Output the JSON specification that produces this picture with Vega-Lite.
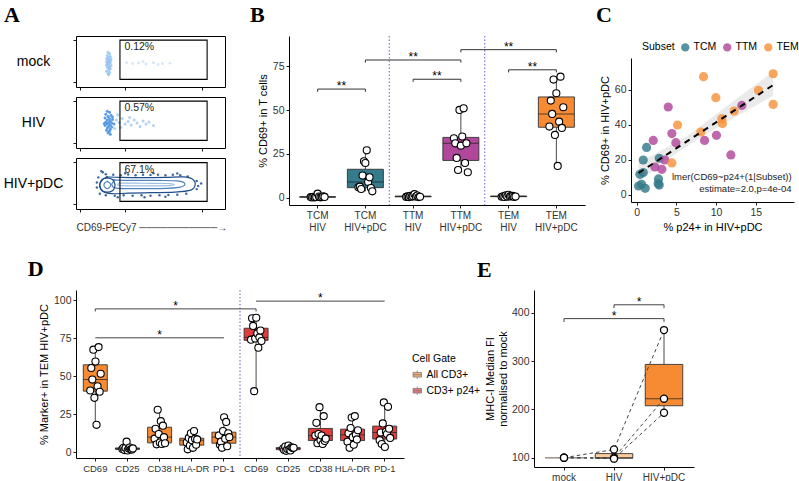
{
"$schema": "https://vega.github.io/schema/vega-lite/v6.json",
"padding": {"left": 2, "top": 3, "right": 0, "bottom": 0},
"background": "white",
"config": {
 "font": "Liberation Sans",
 "view": {"stroke": null},
 "axis": {"domainColor": "#000", "domainWidth": 1, "tickColor": "#000", "tickSize": 3, "tickWidth": 0.9, "labelColor": "#333", "labelFontSize": 10.5, "titleFontSize": 11, "titleFontWeight": "normal", "titleColor": "#000", "grid": false, "labelPadding": 2, "titlePadding": 4, "labelOverlap": false},
 "axisX": {"labelAngle": 0},
 "title": {"font": "Liberation Serif", "fontSize": 22, "fontWeight": "bold", "anchor": "start", "frame": "group", "color": "#000"},
 "legend": {"labelFontSize": 10.5, "titleFontSize": 10.5, "titleFontWeight": "normal", "labelColor": "#000", "titleColor": "#000"}
},
"datasets": {
 "amock": [
  {"k":"mc","x":21.5,"y":68},{"k":"mc","x":22.5,"y":65},{"k":"mc","x":21,"y":62},{"k":"mc","x":23,"y":60},{"k":"mc","x":22,"y":58},{"k":"mc","x":20.5,"y":56},{"k":"mc","x":23.5,"y":55},{"k":"mc","x":21.5,"y":53},{"k":"mc","x":22.5,"y":51},{"k":"mc","x":20.5,"y":50},{"k":"mc","x":23,"y":48},{"k":"mc","x":21.5,"y":47},{"k":"mc","x":22,"y":45},{"k":"mc","x":20.5,"y":43},{"k":"mc","x":23.5,"y":42},{"k":"mc","x":22,"y":40},{"k":"mc","x":21,"y":38},{"k":"mc","x":23,"y":36},{"k":"mc","x":22,"y":34},{"k":"mc","x":20.5,"y":31},{"k":"mc","x":22.5,"y":29},{"k":"mc","x":21.5,"y":26},{"k":"mc","x":22,"y":24},{"k":"mc","x":23,"y":52},{"k":"mc","x":21,"y":45},{"k":"mc","x":22.5,"y":38},
  {"k":"mf","x":34,"y":48},{"k":"mf","x":38,"y":46},{"k":"mf","x":42,"y":47},{"k":"mf","x":47,"y":45},{"k":"mf","x":52,"y":48},{"k":"mf","x":58,"y":46},{"k":"mf","x":63,"y":47},{"k":"mf","x":45,"y":50},{"k":"mf","x":55,"y":44}
 ],
 "ahiv": [
  {"k":"hc","x":21,"y":72},{"k":"hc","x":22.5,"y":70},{"k":"hc","x":20,"y":66},{"k":"hc","x":23.5,"y":64},{"k":"hc","x":21.5,"y":62},{"k":"hc","x":19.5,"y":59},{"k":"hc","x":22.5,"y":58},{"k":"hc","x":24.5,"y":56},{"k":"hc","x":21,"y":55},{"k":"hc","x":23,"y":53},{"k":"hc","x":20,"y":51},{"k":"hc","x":22,"y":50},{"k":"hc","x":24,"y":49},{"k":"hc","x":21,"y":47},{"k":"hc","x":23,"y":45},{"k":"hc","x":19.5,"y":44},{"k":"hc","x":22,"y":42},{"k":"hc","x":24,"y":41},{"k":"hc","x":21,"y":39},{"k":"hc","x":23,"y":37},{"k":"hc","x":20.5,"y":35},{"k":"hc","x":22.5,"y":33},{"k":"hc","x":21.5,"y":30},{"k":"hc","x":23,"y":27},{"k":"hc","x":24.5,"y":61},{"k":"hc","x":25.5,"y":47},{"k":"hc","x":19,"y":48},
  {"k":"hf","x":27,"y":55},{"k":"hf","x":29,"y":50},{"k":"hf","x":31,"y":58},{"k":"hf","x":33,"y":47},{"k":"hf","x":35,"y":52},{"k":"hf","x":37,"y":45},{"k":"hf","x":39,"y":55},{"k":"hf","x":41,"y":49},{"k":"hf","x":43,"y":42},{"k":"hf","x":45,"y":53},{"k":"hf","x":47,"y":47},{"k":"hf","x":49,"y":51},{"k":"hf","x":52,"y":44},{"k":"hf","x":30,"y":40},{"k":"hf","x":36,"y":60},{"k":"hf","x":26,"y":38},{"k":"hf","x":28,"y":65}
 ],
 "apdc": [
  {"k":"pd","x":20,"y":68},{"k":"pd","x":25,"y":67},{"k":"pd","x":30,"y":66},{"k":"pd","x":35,"y":67.5},{"k":"pd","x":40,"y":66},{"k":"pd","x":45,"y":67},{"k":"pd","x":50,"y":66.5},{"k":"pd","x":55,"y":67},{"k":"pd","x":60,"y":66},{"k":"pd","x":65,"y":67},{"k":"pd","x":70,"y":66},{"k":"pd","x":75,"y":64},{"k":"pd","x":18,"y":72},{"k":"pd","x":33,"y":70},{"k":"pd","x":52,"y":70},{"k":"pd","x":68,"y":69.5},
  {"k":"pd","x":20,"y":27},{"k":"pd","x":26,"y":26},{"k":"pd","x":32,"y":27},{"k":"pd","x":38,"y":26},{"k":"pd","x":44,"y":27},{"k":"pd","x":50,"y":26},{"k":"pd","x":56,"y":27},{"k":"pd","x":62,"y":27.5},{"k":"pd","x":68,"y":28},{"k":"pd","x":74,"y":30},{"k":"pd","x":28,"y":23},{"k":"pd","x":46,"y":23},{"k":"pd","x":60,"y":24},
  {"k":"pd","x":81,"y":55},{"k":"pd","x":82,"y":45},{"k":"pd","x":81,"y":39},{"k":"pd","x":84,"y":50},{"k":"pd","x":14,"y":52},{"k":"pd","x":14,"y":42},{"k":"pd","x":15,"y":62},{"k":"pd","x":16,"y":30},{"k":"pd","x":17,"y":74}
 ],
 "acont": [
  {"c":"outer","i":1,"x":21,"y":63},{"c":"outer","i":2,"x":30,"y":62},{"c":"outer","i":3,"x":45,"y":61.5},{"c":"outer","i":4,"x":60,"y":62},{"c":"outer","i":5,"x":72,"y":63},{"c":"outer","i":6,"x":78,"y":59},{"c":"outer","i":7,"x":80,"y":48},{"c":"outer","i":8,"x":77,"y":37},{"c":"outer","i":9,"x":66,"y":33},{"c":"outer","i":10,"x":50,"y":32},{"c":"outer","i":11,"x":35,"y":31},{"c":"outer","i":12,"x":24,"y":30},{"c":"outer","i":13,"x":18,"y":35},{"c":"outer","i":14,"x":16,"y":47},{"c":"outer","i":15,"x":18,"y":58},{"c":"outer","i":16,"x":21,"y":63},
  {"c":"mid","i":1,"x":26,"y":57},{"c":"mid","i":2,"x":40,"y":56},{"c":"mid","i":3,"x":55,"y":56},{"c":"mid","i":4,"x":68,"y":55},{"c":"mid","i":5,"x":73,"y":50},{"c":"mid","i":6,"x":70,"y":43},{"c":"mid","i":7,"x":56,"y":40},{"c":"mid","i":8,"x":40,"y":40},{"c":"mid","i":9,"x":27,"y":41},{"c":"mid","i":10,"x":24,"y":48},{"c":"mid","i":11,"x":26,"y":57},
  {"c":"inner","i":1,"x":30,"y":51},{"c":"inner","i":2,"x":45,"y":50.5},{"c":"inner","i":3,"x":62,"y":50},{"c":"inner","i":4,"x":66,"y":48},{"c":"inner","i":5,"x":62,"y":46},{"c":"inner","i":6,"x":45,"y":45.5},{"c":"inner","i":7,"x":30,"y":46},{"c":"inner","i":8,"x":28,"y":48.5},{"c":"inner","i":9,"x":30,"y":51},
  {"c":"ring","i":1,"x":21,"y":61},{"c":"ring","i":2,"x":24.5,"y":58},{"c":"ring","i":3,"x":26,"y":50},{"c":"ring","i":4,"x":26,"y":43},{"c":"ring","i":5,"x":24.5,"y":36},{"c":"ring","i":6,"x":21,"y":33},{"c":"ring","i":7,"x":17.5,"y":36},{"c":"ring","i":8,"x":16,"y":43},{"c":"ring","i":9,"x":16,"y":50},{"c":"ring","i":10,"x":17.5,"y":58},{"c":"ring","i":11,"x":21,"y":61},
  {"c":"ring2","i":1,"x":21,"y":54},{"c":"ring2","i":2,"x":23,"y":50},{"c":"ring2","i":3,"x":23,"y":44},{"c":"ring2","i":4,"x":21,"y":40},{"c":"ring2","i":5,"x":19,"y":44},{"c":"ring2","i":6,"x":19,"y":50},{"c":"ring2","i":7,"x":21,"y":54}
 ],
 "agate": [
  {"s":"mock","x":29.5,"x2":88,"y":15,"y2":92},
  {"s":"HIV","x":29.5,"x2":88,"y":15,"y2":92},
  {"s":"HIV+pDC","x":29.5,"x2":88,"y":15,"y2":91}
 ],
 "alab": [
  {"s":"mock","x":32.5,"y":78,"t":"0.12%"},
  {"s":"HIV","x":32.5,"y":78,"t":"0.57%"},
  {"s":"HIV+pDC","x":32.5,"y":77,"t":"67.1%"}
 ],
 "b": [
  {"cat":"TCM HIV","g":"HIV","d":"d01","v":0.3},{"cat":"TCM HIV","g":"HIV","d":"d02","v":0.1},{"cat":"TCM HIV","g":"HIV","d":"d03","v":0.5},{"cat":"TCM HIV","g":"HIV","d":"d04","v":0.2},{"cat":"TCM HIV","g":"HIV","d":"d05","v":0.4},{"cat":"TCM HIV","g":"HIV","d":"d06","v":2.3},{"cat":"TCM HIV","g":"HIV","d":"d07","v":0.6},{"cat":"TCM HIV","g":"HIV","d":"d08","v":0.2},{"cat":"TCM HIV","g":"HIV","d":"d09","v":0.3},{"cat":"TCM HIV","g":"HIV","d":"d10","v":0.8},{"cat":"TCM HIV","g":"HIV","d":"d11","v":0.4},
  {"cat":"TCM HIV+pDC","g":"TCM","d":"d01","v":5.9},{"cat":"TCM HIV+pDC","g":"TCM","d":"d02","v":6.3},{"cat":"TCM HIV+pDC","g":"TCM","d":"d03","v":4.95},{"cat":"TCM HIV+pDC","g":"TCM","d":"d04","v":12.6},{"cat":"TCM HIV+pDC","g":"TCM","d":"d05","v":20.8},{"cat":"TCM HIV+pDC","g":"TCM","d":"d06","v":19.8},{"cat":"TCM HIV+pDC","g":"TCM","d":"d07","v":27},{"cat":"TCM HIV+pDC","g":"TCM","d":"d08","v":9},{"cat":"TCM HIV+pDC","g":"TCM","d":"d09","v":11.6},{"cat":"TCM HIV+pDC","g":"TCM","d":"d10","v":5.5},{"cat":"TCM HIV+pDC","g":"TCM","d":"d11","v":3.6},
  {"cat":"TTM HIV","g":"HIV","d":"d01","v":0.4},{"cat":"TTM HIV","g":"HIV","d":"d02","v":0.7},{"cat":"TTM HIV","g":"HIV","d":"d03","v":0.3},{"cat":"TTM HIV","g":"HIV","d":"d04","v":1.0},{"cat":"TTM HIV","g":"HIV","d":"d05","v":0.5},{"cat":"TTM HIV","g":"HIV","d":"d06","v":0.8},{"cat":"TTM HIV","g":"HIV","d":"d07","v":2.0},{"cat":"TTM HIV","g":"HIV","d":"d08","v":0.6},{"cat":"TTM HIV","g":"HIV","d":"d09","v":1.2},{"cat":"TTM HIV","g":"HIV","d":"d10","v":0.3},{"cat":"TTM HIV","g":"HIV","d":"d11","v":0.5},
  {"cat":"TTM HIV+pDC","g":"TTM","d":"d01","v":33.9},{"cat":"TTM HIV+pDC","g":"TTM","d":"d02","v":31},{"cat":"TTM HIV+pDC","g":"TTM","d":"d03","v":22.7},{"cat":"TTM HIV+pDC","g":"TTM","d":"d04","v":15.8},{"cat":"TTM HIV+pDC","g":"TTM","d":"d05","v":50.1},{"cat":"TTM HIV+pDC","g":"TTM","d":"d06","v":29.7},{"cat":"TTM HIV+pDC","g":"TTM","d":"d07","v":34.9},{"cat":"TTM HIV+pDC","g":"TTM","d":"d08","v":51},{"cat":"TTM HIV+pDC","g":"TTM","d":"d09","v":19.8},{"cat":"TTM HIV+pDC","g":"TTM","d":"d10","v":31},{"cat":"TTM HIV+pDC","g":"TTM","d":"d11","v":14.5},
  {"cat":"TEM HIV","g":"HIV","d":"d01","v":0.5},{"cat":"TEM HIV","g":"HIV","d":"d02","v":0.8},{"cat":"TEM HIV","g":"HIV","d":"d03","v":0.4},{"cat":"TEM HIV","g":"HIV","d":"d04","v":1.3},{"cat":"TEM HIV","g":"HIV","d":"d05","v":0.6},{"cat":"TEM HIV","g":"HIV","d":"d06","v":1.6},{"cat":"TEM HIV","g":"HIV","d":"d07","v":0.7},{"cat":"TEM HIV","g":"HIV","d":"d08","v":0.9},{"cat":"TEM HIV","g":"HIV","d":"d09","v":1.0},{"cat":"TEM HIV","g":"HIV","d":"d10","v":0.4},{"cat":"TEM HIV","g":"HIV","d":"d11","v":0.6},
  {"cat":"TEM HIV+pDC","g":"TEM","d":"d01","v":40.6},{"cat":"TEM HIV+pDC","g":"TEM","d":"d02","v":55.4},{"cat":"TEM HIV+pDC","g":"TEM","d":"d03","v":47.8},{"cat":"TEM HIV+pDC","g":"TEM","d":"d04","v":67.4},{"cat":"TEM HIV+pDC","g":"TEM","d":"d05","v":35.8},{"cat":"TEM HIV+pDC","g":"TEM","d":"d06","v":59.6},{"cat":"TEM HIV+pDC","g":"TEM","d":"d07","v":18.1},{"cat":"TEM HIV+pDC","g":"TEM","d":"d08","v":43.4},{"cat":"TEM HIV+pDC","g":"TEM","d":"d09","v":69.1},{"cat":"TEM HIV+pDC","g":"TEM","d":"d10","v":39.8},{"cat":"TEM HIV+pDC","g":"TEM","d":"d11","v":51.6}
 ],
 "bbr": [
  {"id":1,"o":1,"cat":"TCM HIV","v":60.4},{"id":1,"o":2,"cat":"TCM HIV","v":62},{"id":1,"o":3,"cat":"TCM HIV+pDC","v":62},{"id":1,"o":4,"cat":"TCM HIV+pDC","v":60.4},
  {"id":2,"o":1,"cat":"TCM HIV+pDC","v":77.1},{"id":2,"o":2,"cat":"TCM HIV+pDC","v":78.6},{"id":2,"o":3,"cat":"TTM HIV+pDC","v":78.6},{"id":2,"o":4,"cat":"TTM HIV+pDC","v":77.1},
  {"id":3,"o":1,"cat":"TTM HIV","v":66.1},{"id":3,"o":2,"cat":"TTM HIV","v":67.6},{"id":3,"o":3,"cat":"TTM HIV+pDC","v":67.6},{"id":3,"o":4,"cat":"TTM HIV+pDC","v":66.1},
  {"id":4,"o":1,"cat":"TTM HIV+pDC","v":83},{"id":4,"o":2,"cat":"TTM HIV+pDC","v":84.5},{"id":4,"o":3,"cat":"TEM HIV+pDC","v":84.5},{"id":4,"o":4,"cat":"TEM HIV+pDC","v":83},
  {"id":5,"o":1,"cat":"TEM HIV","v":71.5},{"id":5,"o":2,"cat":"TEM HIV","v":73},{"id":5,"o":3,"cat":"TEM HIV+pDC","v":73},{"id":5,"o":4,"cat":"TEM HIV+pDC","v":71.5}
 ],
 "bst": [
  {"cat":"TCM HIV+pDC","p":"e","v":62,"s":"**"},
  {"cat":"TTM HIV","p":"c","v":78.6,"s":"**"},
  {"cat":"TTM HIV+pDC","p":"e","v":67.6,"s":"**"},
  {"cat":"TEM HIV","p":"c","v":84.5,"s":"**"},
  {"cat":"TEM HIV+pDC","p":"e","v":73,"s":"**"}
 ],
 "c": [
  {"s":"TCM","x":1.26,"y":27},{"s":"TCM","x":2.85,"y":20.8},{"s":"TCM","x":0.84,"y":19.8},{"s":"TCM","x":0.84,"y":12.6},{"s":"TCM","x":0.42,"y":11.6},{"s":"TCM","x":2.76,"y":9},{"s":"TCM","x":2.72,"y":6.3},{"s":"TCM","x":0.63,"y":5.9},{"s":"TCM","x":2.85,"y":5.5},{"s":"TCM","x":0.25,"y":4.95},{"s":"TCM","x":1.09,"y":3.6},
  {"s":"TTM","x":13.24,"y":51},{"s":"TTM","x":3.98,"y":50.1},{"s":"TTM","x":2.1,"y":31},{"s":"TTM","x":8.55,"y":31},{"s":"TTM","x":4.44,"y":34.9},{"s":"TTM","x":4.94,"y":29.7},{"s":"TTM","x":10.05,"y":33.9},{"s":"TTM","x":11.86,"y":22.7},{"s":"TTM","x":3.56,"y":19.8},{"s":"TTM","x":2.3,"y":15.8},{"s":"TTM","x":3.18,"y":14.5},
  {"s":"TEM","x":8.42,"y":67.4},{"s":"TEM","x":17.18,"y":69.1},{"s":"TEM","x":15.33,"y":59.6},{"s":"TEM","x":9.97,"y":55.4},{"s":"TEM","x":17.18,"y":51.6},{"s":"TEM","x":12.27,"y":47.8},{"s":"TEM","x":10.72,"y":43.4},{"s":"TEM","x":10.8,"y":40.6},{"s":"TEM","x":5.15,"y":39.8},{"s":"TEM","x":8.08,"y":35.8},{"s":"TEM","x":4.44,"y":18.1}
 ],
 "cband": [
  {"x":0.25,"y":7,"y2":18.5},{"x":2,"y":13.5,"y2":22.5},{"x":4,"y":20.5,"y2":27.5},{"x":6.19,"y":27.2,"y2":33},{"x":8,"y":32.5,"y2":39},{"x":10,"y":38,"y2":46},{"x":12.5,"y":44.5,"y2":54.5},{"x":15,"y":51,"y2":63},{"x":17.18,"y":56.5,"y2":70}
 ],
 "ctxt": [
  {"x":19.5,"y":10.3,"t":"lmer(CD69~p24+(1|Subset))"},
  {"x":19.5,"y":3.1,"t":"estimate=2.0,p=4e-04"}
 ],
 "d": [
  {"k":"A|CD69","g":"All CD3+","d":"d01","v":40.6},{"k":"A|CD69","g":"All CD3+","d":"d02","v":55.4},{"k":"A|CD69","g":"All CD3+","d":"d03","v":47.8},{"k":"A|CD69","g":"All CD3+","d":"d04","v":67.4},{"k":"A|CD69","g":"All CD3+","d":"d05","v":35.8},{"k":"A|CD69","g":"All CD3+","d":"d06","v":59.6},{"k":"A|CD69","g":"All CD3+","d":"d07","v":18.1},{"k":"A|CD69","g":"All CD3+","d":"d08","v":43.4},{"k":"A|CD69","g":"All CD3+","d":"d09","v":69.1},{"k":"A|CD69","g":"All CD3+","d":"d10","v":39.8},{"k":"A|CD69","g":"All CD3+","d":"d11","v":51.6},
  {"k":"A|CD25","g":"All CD3+","d":"d01","v":2.2},{"k":"A|CD25","g":"All CD3+","d":"d02","v":3},{"k":"A|CD25","g":"All CD3+","d":"d03","v":1.5},{"k":"A|CD25","g":"All CD3+","d":"d04","v":2.8},{"k":"A|CD25","g":"All CD3+","d":"d05","v":7},{"k":"A|CD25","g":"All CD3+","d":"d06","v":1.2},{"k":"A|CD25","g":"All CD3+","d":"d07","v":2.5},{"k":"A|CD25","g":"All CD3+","d":"d08","v":3.2},{"k":"A|CD25","g":"All CD3+","d":"d09","v":2},{"k":"A|CD25","g":"All CD3+","d":"d10","v":1.8},{"k":"A|CD25","g":"All CD3+","d":"d11","v":2.6},
  {"k":"A|CD38","g":"All CD3+","d":"d01","v":9},{"k":"A|CD38","g":"All CD3+","d":"d02","v":15.5},{"k":"A|CD38","g":"All CD3+","d":"d03","v":5.3},{"k":"A|CD38","g":"All CD3+","d":"d04","v":28},{"k":"A|CD38","g":"All CD3+","d":"d05","v":12},{"k":"A|CD38","g":"All CD3+","d":"d06","v":6.5},{"k":"A|CD38","g":"All CD3+","d":"d07","v":20.5},{"k":"A|CD38","g":"All CD3+","d":"d08","v":5.5},{"k":"A|CD38","g":"All CD3+","d":"d09","v":17.5},{"k":"A|CD38","g":"All CD3+","d":"d10","v":10},{"k":"A|CD38","g":"All CD3+","d":"d11","v":6},
  {"k":"A|HLA-DR","g":"All CD3+","d":"d01","v":6.5},{"k":"A|HLA-DR","g":"All CD3+","d":"d02","v":2},{"k":"A|HLA-DR","g":"All CD3+","d":"d03","v":9.5},{"k":"A|HLA-DR","g":"All CD3+","d":"d04","v":4.5},{"k":"A|HLA-DR","g":"All CD3+","d":"d05","v":12.5},{"k":"A|HLA-DR","g":"All CD3+","d":"d06","v":8},{"k":"A|HLA-DR","g":"All CD3+","d":"d07","v":3},{"k":"A|HLA-DR","g":"All CD3+","d":"d08","v":14},{"k":"A|HLA-DR","g":"All CD3+","d":"d09","v":9},{"k":"A|HLA-DR","g":"All CD3+","d":"d10","v":5},{"k":"A|HLA-DR","g":"All CD3+","d":"d11","v":8.5},
  {"k":"A|PD-1","g":"All CD3+","d":"d01","v":11},{"k":"A|PD-1","g":"All CD3+","d":"d02","v":5},{"k":"A|PD-1","g":"All CD3+","d":"d03","v":7},{"k":"A|PD-1","g":"All CD3+","d":"d04","v":3},{"k":"A|PD-1","g":"All CD3+","d":"d05","v":14},{"k":"A|PD-1","g":"All CD3+","d":"d06","v":23},{"k":"A|PD-1","g":"All CD3+","d":"d07","v":9},{"k":"A|PD-1","g":"All CD3+","d":"d08","v":20},{"k":"A|PD-1","g":"All CD3+","d":"d09","v":4},{"k":"A|PD-1","g":"All CD3+","d":"d10","v":12.5},{"k":"A|PD-1","g":"All CD3+","d":"d11","v":10},
  {"k":"P|CD69","g":"CD3+ p24+","d":"d01","v":74},{"k":"P|CD69","g":"CD3+ p24+","d":"d02","v":88},{"k":"P|CD69","g":"CD3+ p24+","d":"d03","v":83},{"k":"P|CD69","g":"CD3+ p24+","d":"d04","v":40.2},{"k":"P|CD69","g":"CD3+ p24+","d":"d05","v":74.8},{"k":"P|CD69","g":"CD3+ p24+","d":"d06","v":88.4},{"k":"P|CD69","g":"CD3+ p24+","d":"d07","v":78.1},{"k":"P|CD69","g":"CD3+ p24+","d":"d08","v":68.7},{"k":"P|CD69","g":"CD3+ p24+","d":"d09","v":75.5},{"k":"P|CD69","g":"CD3+ p24+","d":"d10","v":80},{"k":"P|CD69","g":"CD3+ p24+","d":"d11","v":73.1},
  {"k":"P|CD25","g":"CD3+ p24+","d":"d01","v":2.5},{"k":"P|CD25","g":"CD3+ p24+","d":"d02","v":1.5},{"k":"P|CD25","g":"CD3+ p24+","d":"d03","v":3.8},{"k":"P|CD25","g":"CD3+ p24+","d":"d04","v":1},{"k":"P|CD25","g":"CD3+ p24+","d":"d05","v":2.2},{"k":"P|CD25","g":"CD3+ p24+","d":"d06","v":4.5},{"k":"P|CD25","g":"CD3+ p24+","d":"d07","v":2},{"k":"P|CD25","g":"CD3+ p24+","d":"d08","v":1.2},{"k":"P|CD25","g":"CD3+ p24+","d":"d09","v":3.3},{"k":"P|CD25","g":"CD3+ p24+","d":"d10","v":2.8},{"k":"P|CD25","g":"CD3+ p24+","d":"d11","v":3},
  {"k":"P|CD38","g":"CD3+ p24+","d":"d01","v":11},{"k":"P|CD38","g":"CD3+ p24+","d":"d02","v":19.4},{"k":"P|CD38","g":"CD3+ p24+","d":"d03","v":6},{"k":"P|CD38","g":"CD3+ p24+","d":"d04","v":12},{"k":"P|CD38","g":"CD3+ p24+","d":"d05","v":29.7},{"k":"P|CD38","g":"CD3+ p24+","d":"d06","v":8},{"k":"P|CD38","g":"CD3+ p24+","d":"d07","v":11},{"k":"P|CD38","g":"CD3+ p24+","d":"d08","v":5.5},{"k":"P|CD38","g":"CD3+ p24+","d":"d09","v":23.8},{"k":"P|CD38","g":"CD3+ p24+","d":"d10","v":7.5},{"k":"P|CD38","g":"CD3+ p24+","d":"d11","v":9},
  {"k":"P|HLA-DR","g":"CD3+ p24+","d":"d01","v":7},{"k":"P|HLA-DR","g":"CD3+ p24+","d":"d02","v":12.5},{"k":"P|HLA-DR","g":"CD3+ p24+","d":"d03","v":3},{"k":"P|HLA-DR","g":"CD3+ p24+","d":"d04","v":16},{"k":"P|HLA-DR","g":"CD3+ p24+","d":"d05","v":22.9},{"k":"P|HLA-DR","g":"CD3+ p24+","d":"d06","v":10},{"k":"P|HLA-DR","g":"CD3+ p24+","d":"d07","v":5},{"k":"P|HLA-DR","g":"CD3+ p24+","d":"d08","v":23.8},{"k":"P|HLA-DR","g":"CD3+ p24+","d":"d09","v":11.5},{"k":"P|HLA-DR","g":"CD3+ p24+","d":"d10","v":8.5},{"k":"P|HLA-DR","g":"CD3+ p24+","d":"d11","v":14.5},
  {"k":"P|PD-1","g":"CD3+ p24+","d":"d01","v":8},{"k":"P|PD-1","g":"CD3+ p24+","d":"d02","v":13},{"k":"P|PD-1","g":"CD3+ p24+","d":"d03","v":5.5},{"k":"P|PD-1","g":"CD3+ p24+","d":"d04","v":19},{"k":"P|PD-1","g":"CD3+ p24+","d":"d05","v":32.8},{"k":"P|PD-1","g":"CD3+ p24+","d":"d06","v":3.5},{"k":"P|PD-1","g":"CD3+ p24+","d":"d07","v":13.5},{"k":"P|PD-1","g":"CD3+ p24+","d":"d08","v":12},{"k":"P|PD-1","g":"CD3+ p24+","d":"d09","v":29.9},{"k":"P|PD-1","g":"CD3+ p24+","d":"d10","v":15.5},{"k":"P|PD-1","g":"CD3+ p24+","d":"d11","v":9.5}
 ],
 "dbr": [
  {"id":1,"o":1,"k":"A|CD69","v":92.5},{"id":1,"o":2,"k":"A|CD69","v":94.2},{"id":1,"o":3,"k":"P|CD69","v":94.2},{"id":1,"o":4,"k":"P|CD69","v":92.5},
  {"id":2,"o":1,"k":"A|CD69","v":75.2},{"id":2,"o":2,"k":"A|PD-1","v":75.2},
  {"id":3,"o":1,"k":"P|CD69","v":99.3},{"id":3,"o":2,"k":"P|PD-1","v":99.3}
 ],
 "dst": [
  {"k":"A|HLA-DR","p":"e","v":94.2,"s":"*"},
  {"k":"A|CD38","p":"c","v":75.2,"s":"*"},
  {"k":"P|CD38","p":"c","v":99.3,"s":"*"}
 ],
 "e": [
  {"c":"mock","d":"d1","o":1,"v":100},{"c":"HIV","d":"d1","o":2,"v":117},{"c":"HIV+pDC","d":"d1","o":3,"v":364},
  {"c":"mock","d":"d2","o":1,"v":100},{"c":"HIV","d":"d2","o":2,"v":100},{"c":"HIV+pDC","d":"d2","o":3,"v":222},
  {"c":"mock","d":"d3","o":1,"v":100},{"c":"HIV","d":"d3","o":2,"v":98},{"c":"HIV+pDC","d":"d3","o":3,"v":193}
 ],
 "ebr": [
  {"id":1,"o":1,"c":"mock","v":380.8},{"id":1,"o":2,"c":"mock","v":387.7},{"id":1,"o":3,"c":"HIV+pDC","v":387.7},{"id":1,"o":4,"c":"HIV+pDC","v":380.8},
  {"id":2,"o":1,"c":"HIV","v":409.4},{"id":2,"o":2,"c":"HIV","v":416.3},{"id":2,"o":3,"c":"HIV+pDC","v":416.3},{"id":2,"o":4,"c":"HIV+pDC","v":409.4}
 ],
 "est": [
  {"c":"HIV","p":"c","v":387.7,"s":"*"},
  {"c":"HIV+pDC","p":"e","v":416.3,"s":"*"}
 ]
},
"resolve": {"scale": {"color": "independent", "xOffset": "independent", "stroke": "independent"}, "legend": {"color": "independent"}},
"spacing": 25,
"vconcat": [
 {
  "resolve": {"scale": {"color": "independent", "xOffset": "independent", "stroke": "independent"}, "legend": {"color": "independent"}},
  "spacing": 22,
  "hconcat": [
   {
    "title": {"text": "A", "dx": -72, "offset": 9},
    "resolve": {"scale": {"color": "independent", "stroke": "independent"}},
    "spacing": 5,
    "vconcat": [
     {
      "width": 149, "height": 51,
      "view": {"stroke": "#000", "strokeWidth": 1},
      "layer": [
       {"data": {"name": "amock"}, "mark": {"type": "circle", "size": 9, "opacity": 0.85},
        "encoding": {
         "x": {"field": "x", "type": "quantitative", "scale": {"domain": [0, 100], "nice": false, "zero": false}, "axis": {"title": null, "labels": false, "domain": false, "values": [3,6,8.5,10.5,12,13.2,14.2,19.5,20.2,20.9,21.6,22.3,23,26,29,31,33,34.5,35.7,36.7,37.6,38.4,52,56.5,59.5,61.5,63,64.3,65.3,66.2,67,80,84.5,87.5,89.5,91,92.3,93.3,94.2,99]}},
         "y": {"field": "y", "type": "quantitative", "scale": {"domain": [0, 100], "nice": false, "zero": false}, "axis": {"title": "mock", "labels": false, "domain": false, "values": [10,27,44,60,77,92], "titleAngle": 0, "titleAlign": "center", "titleBaseline": "middle", "titleX": -43, "titleY": 25.5, "titleFontSize": 14}},
         "color": {"field": "k", "type": "nominal", "scale": {"domain": ["mc","mf","hc","hf","pd"], "range": ["#92C3F1","#CFE3F7","#3F8CE2","#A3CAF0","#2A5A95"]}, "legend": null}}},
       {"data": {"name": "agate"}, "transform": [{"filter": "datum.s == 'mock'"}], "mark": {"type": "rect", "fillOpacity": 0, "stroke": "#000", "strokeWidth": 1.1},
        "encoding": {"x": {"field": "x", "type": "quantitative", "scale": {"domain": [0, 100], "nice": false, "zero": false}}, "x2": {"field": "x2"}, "y": {"field": "y", "type": "quantitative", "scale": {"domain": [0, 100], "nice": false, "zero": false}}, "y2": {"field": "y2"}}},
       {"data": {"name": "alab"}, "transform": [{"filter": "datum.s == 'mock'"}], "mark": {"type": "text", "align": "left", "baseline": "middle", "fontSize": 10.5, "color": "#222"},
        "encoding": {"x": {"field": "x", "type": "quantitative", "scale": {"domain": [0, 100], "nice": false, "zero": false}}, "y": {"field": "y", "type": "quantitative", "scale": {"domain": [0, 100], "nice": false, "zero": false}}, "text": {"field": "t"}}}
      ]
     },
     {
      "width": 149, "height": 51,
      "view": {"stroke": "#000", "strokeWidth": 1},
      "layer": [
       {"data": {"name": "ahiv"}, "mark": {"type": "circle", "size": 9, "opacity": 0.85},
        "encoding": {
         "x": {"field": "x", "type": "quantitative", "scale": {"domain": [0, 100], "nice": false, "zero": false}, "axis": {"title": null, "labels": false, "domain": false, "values": [3,6,8.5,10.5,12,13.2,14.2,19.5,20.2,20.9,21.6,22.3,23,26,29,31,33,34.5,35.7,36.7,37.6,38.4,52,56.5,59.5,61.5,63,64.3,65.3,66.2,67,80,84.5,87.5,89.5,91,92.3,93.3,94.2,99]}},
         "y": {"field": "y", "type": "quantitative", "scale": {"domain": [0, 100], "nice": false, "zero": false}, "axis": {"title": "HIV", "labels": false, "domain": false, "values": [10,27,44,60,77,92], "titleAngle": 0, "titleAlign": "center", "titleBaseline": "middle", "titleX": -43, "titleY": 25.5, "titleFontSize": 14}},
         "color": {"field": "k", "type": "nominal", "scale": {"domain": ["mc","mf","hc","hf","pd"], "range": ["#92C3F1","#CFE3F7","#3F8CE2","#A3CAF0","#2A5A95"]}, "legend": null}}},
       {"data": {"name": "agate"}, "transform": [{"filter": "datum.s == 'HIV'"}], "mark": {"type": "rect", "fillOpacity": 0, "stroke": "#000", "strokeWidth": 1.1},
        "encoding": {"x": {"field": "x", "type": "quantitative", "scale": {"domain": [0, 100], "nice": false, "zero": false}}, "x2": {"field": "x2"}, "y": {"field": "y", "type": "quantitative", "scale": {"domain": [0, 100], "nice": false, "zero": false}}, "y2": {"field": "y2"}}},
       {"data": {"name": "alab"}, "transform": [{"filter": "datum.s == 'HIV'"}], "mark": {"type": "text", "align": "left", "baseline": "middle", "fontSize": 10.5, "color": "#222"},
        "encoding": {"x": {"field": "x", "type": "quantitative", "scale": {"domain": [0, 100], "nice": false, "zero": false}}, "y": {"field": "y", "type": "quantitative", "scale": {"domain": [0, 100], "nice": false, "zero": false}}, "text": {"field": "t"}}}
      ]
     },
     {
      "width": 149, "height": 51,
      "view": {"stroke": "#000", "strokeWidth": 1},
      "layer": [
       {"data": {"name": "apdc"}, "mark": {"type": "circle", "size": 6, "opacity": 0.9},
        "encoding": {
         "x": {"field": "x", "type": "quantitative", "scale": {"domain": [0, 100], "nice": false, "zero": false}, "axis": {"title": "CD69-PECy7 \u2500\u2500\u2500\u2500\u2500\u2500\u2500\u2500\u2500\u2500\u2500\u2192", "labels": false, "domain": false, "values": [3,6,8.5,10.5,12,13.2,14.2,19.5,20.2,20.9,21.6,22.3,23,26,29,31,33,34.5,35.7,36.7,37.6,38.4,52,56.5,59.5,61.5,63,64.3,65.3,66.2,67,80,84.5,87.5,89.5,91,92.3,93.3,94.2,99], "titleFontSize": 10, "titleColor": "#333", "titleAnchor": "start", "titleAlign": "left", "titleX": 0, "titleY": 18, "titleBaseline": "middle"}},
         "y": {"field": "y", "type": "quantitative", "scale": {"domain": [0, 100], "nice": false, "zero": false}, "axis": {"title": "HIV+pDC", "labels": false, "domain": false, "values": [10,27,44,60,77,92], "titleAngle": 0, "titleAlign": "center", "titleBaseline": "middle", "titleX": -43, "titleY": 25.5, "titleFontSize": 14}},
         "color": {"field": "k", "type": "nominal", "scale": {"domain": ["mc","mf","hc","hf","pd"], "range": ["#92C3F1","#CFE3F7","#3F8CE2","#A3CAF0","#2A5A95"]}, "legend": null}}},
       {"data": {"name": "acont"}, "mark": {"type": "line", "strokeWidth": 1.2, "interpolate": "cardinal-closed"},
        "encoding": {"x": {"field": "x", "type": "quantitative", "scale": {"domain": [0, 100], "nice": false, "zero": false}}, "y": {"field": "y", "type": "quantitative", "scale": {"domain": [0, 100], "nice": false, "zero": false}}, "detail": {"field": "c"}, "order": {"field": "i", "type": "quantitative"},
         "stroke": {"field": "c", "type": "nominal", "scale": {"domain": ["outer","mid","inner","ring","ring2"], "range": ["#1F4E8C","#4F82BE","#9DBEE3","#1F4E8C","#4F82BE"]}, "legend": null}}},
       {"data": {"name": "agate"}, "transform": [{"filter": "datum.s == 'HIV+pDC'"}], "mark": {"type": "rect", "fillOpacity": 0, "stroke": "#000", "strokeWidth": 1.1},
        "encoding": {"x": {"field": "x", "type": "quantitative", "scale": {"domain": [0, 100], "nice": false, "zero": false}}, "x2": {"field": "x2"}, "y": {"field": "y", "type": "quantitative", "scale": {"domain": [0, 100], "nice": false, "zero": false}}, "y2": {"field": "y2"}}},
       {"data": {"name": "alab"}, "transform": [{"filter": "datum.s == 'HIV+pDC'"}], "mark": {"type": "text", "align": "left", "baseline": "middle", "fontSize": 10.5, "color": "#222"},
        "encoding": {"x": {"field": "x", "type": "quantitative", "scale": {"domain": [0, 100], "nice": false, "zero": false}}, "y": {"field": "y", "type": "quantitative", "scale": {"domain": [0, 100], "nice": false, "zero": false}}, "text": {"field": "t"}}}
      ]
     }
    ]
   },
   {
    "resolve": {"scale": {"color": "independent", "xOffset": "independent"}, "legend": {"color": "independent"}},
    "spacing": 11,
    "hconcat": [
     {
      "width": 296, "height": 169,
      "title": {"text": "B", "dx": -39, "offset": 9},
      "layer": [
       {"data": {"values": [{"cat": "TTM HIV"}, {"cat": "TEM HIV"}]}, "mark": {"type": "rule", "color": "#4B4BD8", "strokeDash": [1.5, 2], "strokeWidth": 0.9},
        "encoding": {"x": {"field": "cat", "type": "nominal", "bandPosition": 0, "scale": {"domain": ["TCM HIV","TCM HIV+pDC","TTM HIV","TTM HIV+pDC","TEM HIV","TEM HIV+pDC"], "paddingInner": 0, "paddingOuter": 0.1}}}},
       {"data": {"name": "b"}, "mark": {"type": "boxplot", "extent": "min-max", "size": 36, "median": {"color": "#1a1a1a", "strokeWidth": 1.8}, "box": {"stroke": "#333", "strokeWidth": 0.9}, "rule": {"color": "#333", "strokeWidth": 0.9}, "ticks": false, "outliers": false},
        "encoding": {
         "x": {"field": "cat", "type": "nominal", "scale": {"domain": ["TCM HIV","TCM HIV+pDC","TTM HIV","TTM HIV+pDC","TEM HIV","TEM HIV+pDC"], "paddingInner": 0, "paddingOuter": 0.1}, "axis": {"title": null, "labelExpr": "split(datum.label, ' ')", "labelLineHeight": 12, "labelFontSize": 10}},
         "y": {"field": "v", "type": "quantitative", "scale": {"domain": [-4.2, 92.3], "nice": false, "zero": false}, "axis": {"title": "% CD69+ in T cells", "values": [0, 25, 50, 75]}},
         "color": {"field": "g", "type": "nominal", "scale": {"domain": ["TCM","TTM","TEM","HIV"], "range": ["#367B8C","#B0479B","#F68B33","#ffffff"]}, "legend": null}}},
       {"data": {"name": "b"}, "mark": {"type": "point", "filled": true, "fill": "white", "stroke": "black", "strokeWidth": 1.1, "size": 50, "opacity": 1},
        "encoding": {
         "x": {"field": "cat", "type": "nominal", "scale": {"domain": ["TCM HIV","TCM HIV+pDC","TTM HIV","TTM HIV+pDC","TEM HIV","TEM HIV+pDC"], "paddingInner": 0, "paddingOuter": 0.1}},
         "xOffset": {"field": "d", "type": "nominal", "scale": {"range": [16.2, 31.5]}},
         "y": {"field": "v", "type": "quantitative", "scale": {"domain": [-4.2, 92.3], "nice": false, "zero": false}}}},
       {"data": {"name": "bbr"}, "mark": {"type": "line", "color": "#333", "strokeWidth": 1},
        "encoding": {
         "x": {"field": "cat", "type": "nominal", "scale": {"domain": ["TCM HIV","TCM HIV+pDC","TTM HIV","TTM HIV+pDC","TEM HIV","TEM HIV+pDC"], "paddingInner": 0, "paddingOuter": 0.1}},
         "y": {"field": "v", "type": "quantitative", "scale": {"domain": [-4.2, 92.3], "nice": false, "zero": false}},
         "detail": {"field": "id"}, "order": {"field": "o", "type": "quantitative"}}},
       {"data": {"name": "bst"}, "transform": [{"filter": "datum.p == 'c'"}], "mark": {"type": "text", "fontSize": 12, "baseline": "alphabetic", "dy": 1},
        "encoding": {
         "x": {"field": "cat", "type": "nominal", "scale": {"domain": ["TCM HIV","TCM HIV+pDC","TTM HIV","TTM HIV+pDC","TEM HIV","TEM HIV+pDC"], "paddingInner": 0, "paddingOuter": 0.1}},
         "y": {"field": "v", "type": "quantitative", "scale": {"domain": [-4.2, 92.3], "nice": false, "zero": false}},
         "text": {"field": "s"}}},
       {"data": {"name": "bst"}, "transform": [{"filter": "datum.p == 'e'"}], "mark": {"type": "text", "fontSize": 12, "baseline": "alphabetic", "dy": 1},
        "encoding": {
         "x": {"field": "cat", "type": "nominal", "bandPosition": 0, "scale": {"domain": ["TCM HIV","TCM HIV+pDC","TTM HIV","TTM HIV+pDC","TEM HIV","TEM HIV+pDC"], "paddingInner": 0, "paddingOuter": 0.1}},
         "y": {"field": "v", "type": "quantitative", "scale": {"domain": [-4.2, 92.3], "nice": false, "zero": false}},
         "text": {"field": "s"}}}
      ]
     },
     {
      "title": {"text": "C", "dx": -35, "offset": 9},
      "spacing": 4,
      "vconcat": [
       {"width": 163, "height": 18, "data": {"values": []}, "mark": "point", "encoding": {}},
       {
        "width": 163, "height": 144,
        "layer": [
         {"data": {"name": "cband"}, "mark": {"type": "area", "color": "#d9d9d9", "opacity": 0.55},
          "encoding": {
           "x": {"field": "x", "type": "quantitative", "scale": {"domain": [-0.7, 19.8], "nice": false, "zero": false}},
           "y": {"field": "y", "type": "quantitative", "scale": {"domain": [-4.2, 78.1], "nice": false, "zero": false}},
           "y2": {"field": "y2"}}},
         {"data": {"name": "c"}, "mark": {"type": "circle", "size": 85, "opacity": 0.82},
          "encoding": {
           "x": {"field": "x", "type": "quantitative", "scale": {"domain": [-0.7, 19.8], "nice": false, "zero": false}, "axis": {"title": "% p24+ in HIV+pDC", "values": [0, 5, 10, 15]}},
           "y": {"field": "y", "type": "quantitative", "scale": {"domain": [-4.2, 78.1], "nice": false, "zero": false}, "axis": {"title": "% CD69+ in HIV+pDC", "values": [0, 20, 40, 60]}},
           "color": {"field": "s", "type": "nominal", "scale": {"domain": ["TCM","TTM","TEM"], "range": ["#357A8A","#B0489C","#F7923A"]},
            "legend": {"title": "Subset", "orient": "none", "legendX": 11, "legendY": 6, "direction": "horizontal", "titleOrient": "left", "symbolType": "circle", "symbolSize": 70, "symbolOpacity": 0.82, "columnPadding": 5, "labelOffset": 3, "titlePadding": 5, "labelFontSize": 10.5, "titleFontSize": 10.5}}}},
         {"data": {"name": "c"}, "transform": [{"regression": "y", "on": "x"}], "mark": {"type": "line", "color": "#000", "strokeDash": [6, 5], "strokeWidth": 2},
          "encoding": {
           "x": {"field": "x", "type": "quantitative", "scale": {"domain": [-0.7, 19.8], "nice": false, "zero": false}},
           "y": {"field": "y", "type": "quantitative", "scale": {"domain": [-4.2, 78.1], "nice": false, "zero": false}}}},
         {"data": {"name": "ctxt"}, "mark": {"type": "text", "align": "right", "baseline": "middle", "fontSize": 9.5, "color": "#222"},
          "encoding": {
           "x": {"field": "x", "type": "quantitative", "scale": {"domain": [-0.7, 19.8], "nice": false, "zero": false}},
           "y": {"field": "y", "type": "quantitative", "scale": {"domain": [-4.2, 78.1], "nice": false, "zero": false}},
           "text": {"field": "t"}}}
        ]
       }
      ]
     }
    ]
   }
  ]
 },
 {
  "resolve": {"scale": {"color": "independent", "xOffset": "independent"}, "legend": {"color": "independent"}},
  "spacing": -4,
  "hconcat": [
   {
    "width": 328, "height": 168,
    "title": {"text": "D", "dx": -48.3, "offset": 8.3},
    "layer": [
     {"data": {"values": [{"k": "P|CD69"}]}, "mark": {"type": "rule", "color": "#4B4BD8", "strokeDash": [1.5, 2], "strokeWidth": 0.9},
      "encoding": {"x": {"field": "k", "type": "nominal", "bandPosition": 0, "scale": {"domain": ["A|CD69","A|CD25","A|CD38","A|HLA-DR","A|PD-1","P|CD69","P|CD25","P|CD38","P|HLA-DR","P|PD-1"], "paddingInner": 0, "paddingOuter": 0.1}}}},
     {"data": {"name": "d"}, "mark": {"type": "boxplot", "extent": "min-max", "size": 24, "median": {"color": "#1a1a1a", "strokeWidth": 1.8}, "box": {"stroke": "#333", "strokeWidth": 0.9}, "rule": {"color": "#333", "strokeWidth": 0.9}, "ticks": false, "outliers": false},
      "encoding": {
       "x": {"field": "k", "type": "nominal", "scale": {"domain": ["A|CD69","A|CD25","A|CD38","A|HLA-DR","A|PD-1","P|CD69","P|CD25","P|CD38","P|HLA-DR","P|PD-1"], "paddingInner": 0, "paddingOuter": 0.1}, "axis": {"title": null, "labelExpr": "split(datum.label, '|')[1]", "labelFontSize": 9.5}},
       "y": {"field": "v", "type": "quantitative", "scale": {"domain": [-3.7, 106.6], "nice": false, "zero": false}, "axis": {"title": "% Marker+ in TEM HIV+pDC", "values": [0, 25, 50, 75, 100]}},
       "color": {"field": "g", "type": "nominal", "scale": {"domain": ["All CD3+","CD3+ p24+"], "range": ["#F68B33","#E23D3D"]},
        "legend": {"title": "Cell Gate", "orient": "none", "legendX": 336, "legendY": 64, "symbolType": "M-1,-0.55H1V0.55H-1Z M-1,0H1 M0,-0.55V-1 M0,0.55V1", "symbolSize": 70, "symbolStrokeColor": "#444", "symbolStrokeWidth": 0.8, "labelFontSize": 10.5, "titleFontSize": 10.5, "rowPadding": 3}}}},
     {"data": {"name": "d"}, "mark": {"type": "point", "filled": true, "fill": "white", "stroke": "black", "strokeWidth": 1.1, "size": 50, "opacity": 1},
      "encoding": {
       "x": {"field": "k", "type": "nominal", "scale": {"domain": ["A|CD69","A|CD25","A|CD38","A|HLA-DR","A|PD-1","P|CD69","P|CD25","P|CD38","P|HLA-DR","P|PD-1"], "paddingInner": 0, "paddingOuter": 0.1}},
       "xOffset": {"field": "d", "type": "nominal", "scale": {"range": [10.5, 22]}},
       "y": {"field": "v", "type": "quantitative", "scale": {"domain": [-3.7, 106.6], "nice": false, "zero": false}}}},
     {"data": {"name": "dbr"}, "mark": {"type": "line", "color": "#444", "strokeWidth": 1},
      "encoding": {
       "x": {"field": "k", "type": "nominal", "scale": {"domain": ["A|CD69","A|CD25","A|CD38","A|HLA-DR","A|PD-1","P|CD69","P|CD25","P|CD38","P|HLA-DR","P|PD-1"], "paddingInner": 0, "paddingOuter": 0.1}},
       "y": {"field": "v", "type": "quantitative", "scale": {"domain": [-3.7, 106.6], "nice": false, "zero": false}},
       "detail": {"field": "id"}, "order": {"field": "o", "type": "quantitative"}}},
     {"data": {"name": "dst"}, "transform": [{"filter": "datum.p == 'c'"}], "mark": {"type": "text", "fontSize": 12, "baseline": "alphabetic", "dy": 1},
      "encoding": {
       "x": {"field": "k", "type": "nominal", "scale": {"domain": ["A|CD69","A|CD25","A|CD38","A|HLA-DR","A|PD-1","P|CD69","P|CD25","P|CD38","P|HLA-DR","P|PD-1"], "paddingInner": 0, "paddingOuter": 0.1}},
       "y": {"field": "v", "type": "quantitative", "scale": {"domain": [-3.7, 106.6], "nice": false, "zero": false}},
       "text": {"field": "s"}}},
     {"data": {"name": "dst"}, "transform": [{"filter": "datum.p == 'e'"}], "mark": {"type": "text", "fontSize": 12, "baseline": "alphabetic", "dy": 1},
      "encoding": {
       "x": {"field": "k", "type": "nominal", "bandPosition": 0, "scale": {"domain": ["A|CD69","A|CD25","A|CD38","A|HLA-DR","A|PD-1","P|CD69","P|CD25","P|CD38","P|HLA-DR","P|PD-1"], "paddingInner": 0, "paddingOuter": 0.1}},
       "y": {"field": "v", "type": "quantitative", "scale": {"domain": [-3.7, 106.6], "nice": false, "zero": false}},
       "text": {"field": "s"}}}
    ]
   },
   {
    "width": 160, "height": 177,
    "title": {"text": "E", "dx": -57, "offset": 7.6},
    "layer": [
     {"data": {"name": "e"}, "mark": {"type": "boxplot", "extent": "min-max", "size": 37.5, "median": {"color": "#1a1a1a", "strokeWidth": 1.8}, "box": {"stroke": "#333", "strokeWidth": 0.9}, "rule": {"color": "#333", "strokeWidth": 0.9}, "ticks": false, "outliers": false},
      "encoding": {
       "x": {"field": "c", "type": "nominal", "scale": {"domain": ["mock","HIV","HIV+pDC"], "paddingInner": 0, "paddingOuter": 0.1}, "axis": {"title": null, "labelFontSize": 10}},
       "y": {"field": "v", "type": "quantitative", "scale": {"domain": [80.8, 446.9], "nice": false, "zero": false}, "axis": {"title": ["MHC-I Median FI", "normalised to mock"], "values": [100, 200, 300, 400], "titlePadding": 3}},
       "color": {"field": "c", "type": "nominal", "scale": {"domain": ["mock","HIV","HIV+pDC"], "range": ["#FEE6CE","#FDCB9D","#F68B33"]}, "legend": null}}},
     {"data": {"name": "e"}, "mark": {"type": "line", "color": "#444", "strokeDash": [3.5, 3], "strokeWidth": 1},
      "encoding": {
       "x": {"field": "c", "type": "nominal", "scale": {"domain": ["mock","HIV","HIV+pDC"], "paddingInner": 0, "paddingOuter": 0.1}},
       "y": {"field": "v", "type": "quantitative", "scale": {"domain": [80.8, 446.9], "nice": false, "zero": false}},
       "detail": {"field": "d"}, "order": {"field": "o", "type": "quantitative"}}},
     {"data": {"name": "e"}, "mark": {"type": "point", "filled": true, "fill": "white", "stroke": "black", "strokeWidth": 1.3, "size": 50, "opacity": 1},
      "encoding": {
       "x": {"field": "c", "type": "nominal", "scale": {"domain": ["mock","HIV","HIV+pDC"], "paddingInner": 0, "paddingOuter": 0.1}},
       "y": {"field": "v", "type": "quantitative", "scale": {"domain": [80.8, 446.9], "nice": false, "zero": false}}}},
     {"data": {"name": "ebr"}, "mark": {"type": "line", "color": "#444", "strokeWidth": 1},
      "encoding": {
       "x": {"field": "c", "type": "nominal", "scale": {"domain": ["mock","HIV","HIV+pDC"], "paddingInner": 0, "paddingOuter": 0.1}},
       "y": {"field": "v", "type": "quantitative", "scale": {"domain": [80.8, 446.9], "nice": false, "zero": false}},
       "detail": {"field": "id"}, "order": {"field": "o", "type": "quantitative"}}},
     {"data": {"name": "est"}, "transform": [{"filter": "datum.p == 'c'"}], "mark": {"type": "text", "fontSize": 12, "baseline": "alphabetic", "dy": 1},
      "encoding": {
       "x": {"field": "c", "type": "nominal", "scale": {"domain": ["mock","HIV","HIV+pDC"], "paddingInner": 0, "paddingOuter": 0.1}},
       "y": {"field": "v", "type": "quantitative", "scale": {"domain": [80.8, 446.9], "nice": false, "zero": false}},
       "text": {"field": "s"}}},
     {"data": {"name": "est"}, "transform": [{"filter": "datum.p == 'e'"}], "mark": {"type": "text", "fontSize": 12, "baseline": "alphabetic", "dy": 1},
      "encoding": {
       "x": {"field": "c", "type": "nominal", "bandPosition": 0, "scale": {"domain": ["mock","HIV","HIV+pDC"], "paddingInner": 0, "paddingOuter": 0.1}},
       "y": {"field": "v", "type": "quantitative", "scale": {"domain": [80.8, 446.9], "nice": false, "zero": false}},
       "text": {"field": "s"}}}
    ]
   }
  ]
 }
]
}
